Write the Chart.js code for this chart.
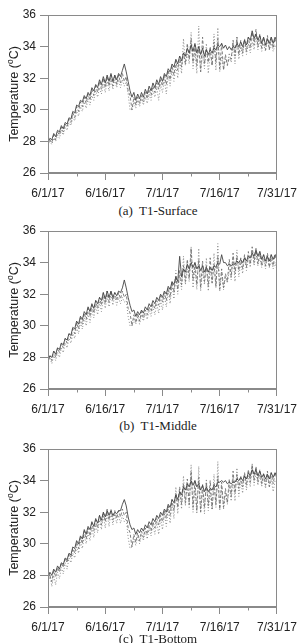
<!DOCTYPE html>
<html>
<head>
<meta charset="utf-8">
<script src="https://cdn.jsdelivr.net/npm/chart.js@4.4.1/dist/chart.umd.min.js"></script>
<style>
  body { margin: 0; background: #fff; width: 303px; height: 643px; overflow: hidden; position: relative; }
  canvas { position: absolute; left: 0; }
  .cap { position: absolute; left: 13px; width: 290px; text-align: center; font-family: "Liberation Serif", "Times New Roman", serif; font-size: 13px; line-height: 15px; color: #222; }
</style>
</head>
<body>
<canvas id="chartA" width="303" height="200" style="top:0px"></canvas>
<div class="cap" style="top:203px">(a)&nbsp; T1-Surface</div>
<canvas id="chartB" width="303" height="200" style="top:216px"></canvas>
<div class="cap" style="top:418px">(b)&nbsp; T1-Middle</div>
<canvas id="chartC" width="303" height="200" style="top:434px"></canvas>
<div class="cap" style="top:631px">(c)&nbsp; T1-Bottom</div>

<script>
// x axis: days since 6/1/17, two readings per day (midnight, noon)
const dateLabels = ['6/1/17', '6/16/17', '7/1/17', '7/16/17', '7/31/17'];
const yTicks = [26, 28, 30, 32, 34, 36];
const dayStep = 0.5;

// (a) T1-Surface
const surfaceSolid = [27.9,28.2, 28.1,28.5, 28.3,28.7, 28.6,29.0, 28.8,29.2, 29.1,29.5, 29.4,29.9, 29.8,30.3, 30.2,30.6, 30.5,30.9,
  30.7,31.1, 30.9,31.4, 31.2,31.6, 31.4,31.9, 31.6,32.1, 31.7,32.2, 31.8,32.3, 31.8,32.2, 31.9,32.3, 32.1,32.5,
  32.9,32.4, 31.8,31.2, 30.8,31.1, 30.6,31.0, 30.7,31.1, 30.8,31.3, 31.0,31.5, 31.2,31.7, 31.4,31.9, 31.6,32.1,
  31.8,32.3, 32.1,32.6, 32.4,32.9, 32.7,33.2, 32.9,33.4, 33.1,33.6, 33.4,33.9, 33.6,34.1, 33.7,34.2, 33.6,34.0,
  33.5,33.9, 33.4,33.8, 33.5,33.8, 33.6,33.9, 33.8,34.1, 34.0,34.2, 33.9,34.1, 33.8,34.0, 33.8,34.0, 33.9,34.2,
  34.0,34.3, 34.0,34.4, 34.1,34.6, 34.4,35.0, 34.5,34.8, 34.4,34.7, 34.2,34.6, 34.1,34.5, 34.2,34.6, 34.2,34.6, 34.3];
const surfaceDashed = [27.8,28.1, 27.9,28.4, 28.1,28.6, 28.4,28.9, 28.6,29.1, 28.9,29.4, 29.2,29.8, 29.5,30.2, 29.9,30.5, 30.2,30.8,
  30.4,31.0, 30.6,31.3, 30.9,31.5, 31.1,31.8, 31.3,32.0, 31.4,32.1, 31.5,32.2, 31.5,32.2, 31.6,32.2, 31.7,32.3,
  31.8,32.1, 31.2,30.9, 30.0,30.8, 30.3,30.8, 30.4,30.9, 30.5,31.1, 30.7,31.3, 30.9,31.5, 31.1,31.7, 31.3,31.9,
  31.5,32.2, 31.6,32.5, 31.9,32.8, 32.2,33.1, 32.5,33.4, 32.7,33.6, 32.9,34.2, 33.2,34.5, 33.0,34.1, 32.8,34.0,
  32.4,34.6, 32.9,33.9, 33.0,34.0, 32.8,34.3, 33.0,34.5, 32.6,34.2, 32.5,33.5, 32.8,33.3, 33.2,34.4, 33.4,34.6,
  33.5,34.4, 33.6,34.5, 33.7,34.6, 33.9,34.9, 34.1,35.1, 34.0,34.8, 33.9,34.6, 33.8,34.7, 33.8,34.6, 33.9,34.5, 34.2];
const surfaceDotted = [27.8,28.0, 27.8,28.2, 28.0,28.4, 28.2,28.7, 28.4,28.9, 28.7,29.2, 29.0,29.5, 29.3,29.9, 29.6,30.2, 29.9,30.5,
  30.1,30.7, 30.3,30.9, 30.6,31.2, 30.8,31.4, 31.0,31.6, 31.1,31.8, 31.2,31.9, 31.3,31.9, 31.4,31.9, 31.4,31.9,
  31.5,31.8, 31.0,30.0, 30.0,30.5, 30.1,30.6, 30.2,30.7, 30.3,30.8, 30.4,31.0, 30.6,31.2, 30.8,31.4, 30.6,31.6,
  31.1,31.9, 31.0,32.2, 31.5,32.5, 31.8,32.8, 32.0,33.1, 32.3,34.5, 32.8,33.6, 32.9,34.9, 32.6,33.8, 32.3,35.3,
  32.4,33.5, 32.6,34.2, 32.3,33.6, 32.8,34.8, 32.5,35.2, 32.4,33.4, 32.6,33.2, 32.9,33.6, 33.0,34.3, 32.9,34.6,
  33.2,34.0, 33.4,34.4, 33.5,34.2, 33.6,34.3, 33.8,34.7, 33.8,34.4, 33.7,34.2, 33.7,34.4, 33.8,34.2, 33.7,34.1, 33.9];

// (b) T1-Middle
const middleSolid = [27.8,28.1, 28.0,28.4, 28.2,28.6, 28.5,28.9, 28.8,29.2, 29.1,29.5, 29.4,29.9, 29.8,30.3, 30.1,30.6, 30.4,30.9,
  30.7,31.2, 30.9,31.4, 31.1,31.6, 31.4,31.8, 31.6,32.1, 31.7,32.2, 31.8,32.2, 31.8,32.1, 31.9,32.2, 32.1,32.4,
  32.9,32.4, 31.8,31.3, 30.9,31.0, 30.6,30.9, 30.7,31.0, 30.8,31.2, 31.0,31.4, 31.2,31.6, 31.4,31.8, 31.6,32.0,
  31.8,32.2, 32.0,32.5, 32.3,32.8, 32.6,33.1, 32.8,34.4, 33.1,33.6, 33.4,33.9, 33.6,34.0, 33.7,34.0, 33.6,33.8,
  33.5,33.8, 33.4,33.7, 33.4,33.7, 33.5,33.8, 33.7,34.0, 33.9,34.5, 34.0,34.0, 33.8,33.9, 33.8,33.9, 33.9,34.1,
  34.0,34.2, 34.0,34.3, 34.1,34.4, 34.3,34.6, 34.4,34.8, 34.4,34.7, 34.2,34.5, 34.1,34.4, 34.1,34.5, 34.2,34.5, 34.4];
const middleDashed = [27.7,28.1, 27.8,28.4, 28.0,28.6, 28.3,28.9, 28.6,29.2, 28.9,29.5, 29.2,29.8, 29.5,30.2, 29.8,30.5, 30.1,30.8,
  30.4,31.1, 30.6,31.3, 30.8,31.6, 31.1,31.8, 31.3,32.1, 31.4,32.2, 31.5,32.2, 31.6,32.1, 31.6,32.1, 31.7,32.2,
  31.8,32.0, 31.1,30.8, 30.0,30.7, 30.2,30.8, 30.3,30.9, 30.5,31.0, 30.7,31.2, 30.9,31.4, 31.1,31.6, 31.3,31.9,
  31.5,32.1, 31.6,32.4, 31.8,32.8, 32.1,33.1, 32.3,33.5, 32.6,33.8, 32.8,34.2, 33.0,34.9, 32.9,34.0, 32.6,34.2,
  32.4,34.1, 32.8,33.8, 32.5,34.3, 32.7,33.9, 32.5,34.4, 32.3,33.6, 32.4,33.3, 32.8,34.2, 33.1,34.6, 33.3,34.4,
  33.5,34.3, 33.6,34.5, 33.7,34.7, 33.9,35.0, 34.0,34.9, 33.9,34.7, 33.8,34.5, 33.8,34.6, 33.7,34.5, 33.8,34.5, 34.0];
const middleDotted = [27.7,28.0, 27.6,28.1, 27.8,28.3, 28.0,28.6, 28.3,28.9, 28.6,29.2, 28.9,29.5, 29.2,29.9, 29.5,30.2, 29.8,30.5,
  30.0,30.8, 30.2,31.0, 30.5,31.3, 30.7,31.5, 30.9,31.8, 31.1,31.9, 31.2,32.0, 31.3,31.9, 31.3,31.8, 31.4,31.8,
  31.5,31.6, 30.6,30.0, 30.0,30.4, 30.1,30.6, 30.1,30.7, 30.3,30.8, 30.4,31.0, 30.6,31.2, 30.7,31.4, 30.8,31.6,
  31.0,31.9, 31.2,32.2, 31.4,32.6, 31.7,33.5, 32.0,33.2, 32.3,34.4, 32.6,33.6, 32.8,35.0, 32.4,33.7, 32.3,34.9,
  32.2,33.5, 32.6,34.3, 32.2,33.6, 32.7,34.6, 32.4,35.2, 32.2,33.4, 32.3,33.1, 32.7,33.6, 32.9,34.3, 32.8,34.8,
  33.1,34.0, 33.3,34.4, 33.5,34.3, 33.7,34.8, 33.8,34.6, 33.8,34.3, 33.7,34.2, 33.6,34.4, 33.7,34.2, 33.6,34.0, 33.5];

// (c) T1-Bottom
const bottomSolid = [27.8,28.2, 28.0,28.4, 28.2,28.6, 28.4,28.8, 28.7,29.1, 29.0,29.4, 29.3,29.8, 29.7,30.2, 30.0,30.5, 30.3,30.9,
  30.6,31.1, 30.9,31.4, 31.1,31.6, 31.3,31.8, 31.5,32.0, 31.7,32.1, 31.8,32.1, 31.8,32.0, 31.9,32.1, 32.1,32.5,
  32.8,32.4, 31.7,31.2, 30.9,31.0, 30.6,30.9, 30.7,31.0, 30.8,31.2, 31.0,31.4, 31.2,31.6, 31.4,31.8, 31.6,32.0,
  31.8,32.2, 32.0,32.5, 32.3,32.8, 32.6,33.1, 32.8,33.3, 33.1,33.6, 33.4,33.8, 33.6,34.0, 33.7,34.0, 33.6,33.8,
  33.4,33.7, 33.3,33.6, 33.3,33.5, 33.4,33.7, 33.6,33.9, 33.9,34.0, 33.9,34.0, 33.8,33.9, 33.8,33.9, 33.9,34.1,
  34.0,34.2, 34.0,34.3, 34.1,34.5, 34.3,34.7, 34.4,34.7, 34.3,34.6, 34.2,34.4, 34.1,34.4, 34.1,34.5, 34.2,34.5, 34.3];
const bottomDashed = [27.7,28.0, 27.6,28.3, 27.9,28.5, 28.2,28.8, 28.5,29.1, 28.8,29.4, 29.1,29.7, 29.4,30.1, 29.7,30.4, 30.0,30.8,
  30.3,31.0, 30.5,31.3, 30.8,31.5, 31.0,31.8, 31.2,32.0, 31.4,32.2, 31.5,32.2, 31.5,32.1, 31.6,32.1, 31.7,32.2,
  31.8,32.0, 31.0,30.7, 29.8,30.6, 30.1,30.7, 30.2,30.8, 30.4,31.0, 30.6,31.2, 30.8,31.4, 31.0,31.6, 31.2,31.8,
  31.4,32.1, 31.6,32.4, 31.8,32.8, 32.1,33.2, 32.3,33.6, 32.5,33.8, 32.6,34.1, 32.5,34.6, 32.3,34.0, 32.1,34.2,
  32.0,33.8, 32.3,33.9, 32.4,34.0, 32.2,33.8, 32.5,34.3, 32.2,33.9, 32.3,33.5, 32.6,34.1, 33.0,34.6, 33.2,34.4,
  33.5,34.3, 33.6,34.5, 33.7,34.7, 33.9,35.0, 34.0,34.9, 33.9,34.7, 33.8,34.5, 33.7,34.6, 33.6,34.5, 33.8,34.5, 34.1];
const bottomDotted = [27.6,28.0, 27.3,28.0, 27.4,28.2, 27.8,28.5, 28.1,28.8, 28.4,29.1, 28.8,29.4, 29.1,29.8, 29.4,30.1, 29.7,30.5,
  30.0,30.7, 30.2,31.0, 30.4,31.2, 30.7,31.5, 30.9,31.8, 31.0,31.9, 31.1,32.0, 31.2,31.9, 31.3,31.8, 31.3,31.8,
  31.4,31.6, 30.4,29.7, 29.8,30.3, 29.9,30.5, 30.0,30.6, 30.2,30.8, 30.3,31.0, 30.5,31.2, 30.6,31.4, 30.6,31.6,
  30.9,31.9, 31.1,32.2, 31.3,32.6, 31.6,33.6, 31.9,33.3, 32.2,34.3, 32.4,33.7, 32.3,35.0, 32.0,33.6, 31.9,34.9,
  32.0,33.4, 31.9,34.1, 32.1,33.3, 32.2,34.4, 32.3,35.2, 32.1,33.6, 32.2,33.2, 32.5,33.7, 32.7,34.2, 32.7,34.8,
  33.0,34.0, 33.2,34.4, 33.4,34.3, 33.6,35.1, 33.7,34.6, 33.7,34.4, 33.6,34.2, 33.5,34.3, 33.6,34.1, 33.3,34.0, 33.9];

const axisGrey = '#8a8a8a';
const textColor = '#222';

function toPoints(vals) {
  return vals.map((v, i) => ({ x: i * dayStep, y: v }));
}

// frame, minor ticks and y title
const framePlugin = {
  id: 'frame',
  afterDraw(chart) {
    const ctx = chart.ctx;
    const a = chart.chartArea;
    const xs = chart.scales.x, ys = chart.scales.y;
    ctx.save();
    ctx.strokeStyle = axisGrey;
    ctx.lineWidth = 1;
    const L = Math.round(a.left) + 0.5, R = Math.round(a.right) - 0.5;
    const T = Math.round(a.top) + 0.5, B = Math.round(a.bottom) - 0.5;
    ctx.strokeRect(L, T, R - L, B - T);
    ctx.beginPath();
    ys.ticks.forEach(t => {
      if (yTicks.indexOf(t.value) < 0) {
        const py = Math.round(ys.getPixelForValue(t.value)) + 0.5;
        ctx.moveTo(L - 4, py); ctx.lineTo(L, py);
      }
    });
    xs.ticks.forEach(t => {
      if (t.value % 15 !== 0) {
        const px = Math.round(xs.getPixelForValue(t.value)) + 0.5;
        ctx.moveTo(px, B); ctx.lineTo(px, B + 4);
      }
    });
    ctx.stroke();

    // Temperature (oC) with raised o
    ctx.translate(15, (a.top + a.bottom) / 2);
    ctx.rotate(-Math.PI / 2);
    ctx.fillStyle = textColor;
    ctx.textBaseline = 'middle';
    const big = '12.5px "Liberation Sans", Arial, sans-serif';
    const small = '8.5px "Liberation Sans", Arial, sans-serif';
    ctx.font = big;
    const w1 = ctx.measureText('Temperature (').width;
    const w3 = ctx.measureText('C)').width;
    ctx.font = small;
    const w2 = ctx.measureText('o').width;
    let x0 = -(w1 + w2 + w3) / 2;
    ctx.font = big;
    ctx.fillText('Temperature (', x0, 0);
    ctx.font = small;
    ctx.fillText('o', x0 + w1, -4);
    ctx.font = big;
    ctx.fillText('C)', x0 + w1 + w2, 0);
    ctx.restore();
  }
};

function makePanel(id, solid, dashed, dotted) {
  new Chart(document.getElementById(id), {
    type: 'line',
    data: {
      datasets: [
        { data: toPoints(solid), borderColor: '#444', borderWidth: 0.9 },
        { data: toPoints(dashed), borderColor: '#707070', borderWidth: 0.9, borderDash: [3, 2] },
        { data: toPoints(dotted), borderColor: '#808080', borderWidth: 0.9, borderDash: [1, 2] }
      ]
    },
    options: {
      responsive: false,
      animation: false,
      devicePixelRatio: 1,
      layout: { padding: { top: 15, right: 20, left: 0, bottom: 0 } },
      elements: { point: { radius: 0 }, line: { tension: 0, fill: false } },
      plugins: { legend: { display: false }, tooltip: { enabled: false } },
      scales: {
        x: {
          type: 'linear', min: 0, max: 60,
          afterFit: s => { s.height = 27; },
          border: { color: axisGrey },
          grid: {
            drawOnChartArea: false, tickLength: 7,
            tickColor: c => (c.tick && c.tick.value % 15 === 0) ? axisGrey : 'rgba(0,0,0,0)'
          },
          ticks: {
            stepSize: 7.5, autoSkip: false, maxRotation: 0, padding: 6,
            color: textColor, font: { family: '"Liberation Sans", Arial, sans-serif', size: 12 },
            callback: v => v % 15 === 0 ? dateLabels[v / 15] : ''
          }
        },
        y: {
          min: 26, max: 36,
          afterFit: s => { s.width = 48; },
          border: { color: axisGrey },
          grid: {
            drawOnChartArea: false, tickLength: 8,
            tickColor: c => (c.tick && yTicks.indexOf(c.tick.value) >= 0) ? axisGrey : 'rgba(0,0,0,0)'
          },
          ticks: {
            stepSize: 1, padding: 4,
            color: textColor, font: { family: '"Liberation Sans", Arial, sans-serif', size: 12 },
            callback: v => yTicks.indexOf(v) >= 0 ? v : ''
          }
        }
      }
    },
    plugins: [framePlugin]
  });
}

makePanel('chartA', surfaceSolid, surfaceDashed, surfaceDotted);
makePanel('chartB', middleSolid, middleDashed, middleDotted);
makePanel('chartC', bottomSolid, bottomDashed, bottomDotted);
</script>
</body>
</html>
